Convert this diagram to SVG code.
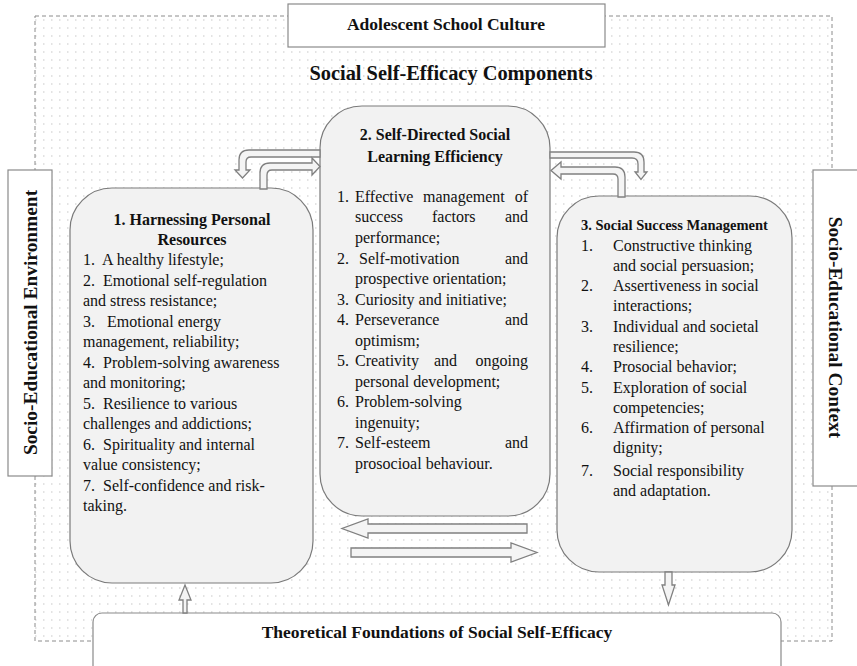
<svg xmlns="http://www.w3.org/2000/svg" width="857" height="666" viewBox="0 0 857 666">
<style>
text{font-family:"Liberation Serif","Times New Roman",serif;fill:#111}
.b{font-weight:bold}
.t16{font-size:16px}
.box{fill:#f2f2f2;stroke:#7a7a7a;stroke-width:1.2}
.wbox{fill:#fff;stroke:#8a8a8a;stroke-width:1.2}
.arr{fill:#f4f4f4;stroke:#808080;stroke-width:1.3;stroke-linejoin:miter}
</style>
<defs>
<pattern id="dots" x="0" y="0" width="8" height="8" patternUnits="userSpaceOnUse">
<rect x="3" y="3" width="1.5" height="2" fill="#e3e3e3"/>
</pattern>
</defs>
<rect width="857" height="666" fill="#fff"/>
<g id="frame">
<rect x="35" y="16" width="797" height="625" fill="url(#dots)" stroke="#8c8c8c" stroke-width="1" stroke-dasharray="4 3"/>
</g>
<g id="school-culture">
<rect class="wbox" x="288" y="4" width="317" height="43"/>
<text class="b" x="446" y="30" font-size="17.5" text-anchor="middle">Adolescent School Culture</text>
</g>
<g id="title">
<text class="b" x="451" y="80" font-size="20.4" text-anchor="middle">Social Self-Efficacy Components</text>
</g>
<g id="env">
<rect class="wbox" x="8" y="170" width="44" height="306"/>
<text class="b" font-size="19.4" text-anchor="middle" transform="translate(37,322.5) rotate(-90)">Socio-Educational Environment</text>
</g>
<g id="context">
<rect class="wbox" x="813" y="170" width="50" height="316"/>
<text class="b" font-size="19.4" text-anchor="middle" transform="translate(829,327.5) rotate(90)">Socio-Educational Context</text>
</g>
<g id="foundations">
<rect class="wbox" x="93" y="613" width="688" height="62" rx="9"/>
<text class="b" x="437" y="638" font-size="17.5" text-anchor="middle">Theoretical Foundations of Social Self-Efficacy</text>
</g>
<g id="box1">
<rect class="box" x="70" y="188" width="243" height="395" rx="42"/>
<text class="b t16" x="192" y="225" text-anchor="middle">1. Harnessing Personal</text>
<text class="b t16" x="192" y="245" text-anchor="middle">Resources</text>
<g class="t16">
<text x="83" y="265" xml:space="preserve">1.  A healthy lifestyle;</text>
<text x="83" y="286" xml:space="preserve">2.  Emotional self-regulation</text>
<text x="83" y="306">and stress resistance;</text>
<text x="83" y="327" xml:space="preserve">3.   Emotional energy</text>
<text x="83" y="347">management, reliability;</text>
<text x="83" y="368" xml:space="preserve">4.  Problem-solving awareness</text>
<text x="83" y="388">and monitoring;</text>
<text x="83" y="409" xml:space="preserve">5.  Resilience to various</text>
<text x="83" y="429">challenges and addictions;</text>
<text x="83" y="450" xml:space="preserve">6.  Spirituality and internal</text>
<text x="83" y="470">value consistency;</text>
<text x="83" y="491" xml:space="preserve">7.  Self-confidence and risk-</text>
<text x="83" y="511">taking.</text>
</g>
</g>
<g id="box2">
<rect class="box" x="320" y="106" width="230" height="410" rx="42"/>
<text class="b t16" x="435" y="140" text-anchor="middle">2. Self-Directed Social</text>
<text class="b t16" x="435" y="162" text-anchor="middle">Learning Efficiency</text>
<g class="t16">
<text x="337" y="202">1.</text><text x="355" y="202">Effective</text><text x="423" y="202">management</text><text x="528" y="202" text-anchor="end">of</text>
<text x="355" y="222">success</text><text x="432" y="222">factors</text><text x="528" y="222" text-anchor="end">and</text>
<text x="355" y="243">performance;</text>
<text x="337" y="264">2.</text><text x="359" y="264">Self-motivation</text><text x="528" y="264" text-anchor="end">and</text>
<text x="355" y="284">prospective orientation;</text>
<text x="337" y="305">3.</text><text x="355" y="305">Curiosity and initiative;</text>
<text x="337" y="325">4.</text><text x="355" y="325">Perseverance</text><text x="528" y="325" text-anchor="end">and</text>
<text x="355" y="346">optimism;</text>
<text x="337" y="366">5.</text><text x="355" y="366">Creativity</text><text x="434" y="366">and</text><text x="528" y="366" text-anchor="end">ongoing</text>
<text x="355" y="387">personal development;</text>
<text x="337" y="407">6.</text><text x="355" y="407">Problem-solving</text>
<text x="355" y="428">ingenuity;</text>
<text x="337" y="448">7.</text><text x="355" y="448">Self-esteem</text><text x="528" y="448" text-anchor="end">and</text>
<text x="355" y="469">prosocioal behaviour.</text>
</g>
</g>
<g id="box3">
<rect class="box" x="557" y="196" width="235" height="376" rx="42"/>
<text class="b" x="581" y="230" font-size="14.5">3. Social Success Management</text>
<g class="t16">
<text x="581" y="251">1.</text><text x="613" y="251">Constructive thinking</text>
<text x="613" y="271">and social persuasion;</text>
<text x="581" y="291">2.</text><text x="613" y="291">Assertiveness in social</text>
<text x="613" y="311">interactions;</text>
<text x="581" y="332">3.</text><text x="613" y="332">Individual and societal</text>
<text x="613" y="352">resilience;</text>
<text x="581" y="372">4.</text><text x="613" y="372">Prosocial behavior;</text>
<text x="581" y="393">5.</text><text x="613" y="393">Exploration of social</text>
<text x="613" y="413">competencies;</text>
<text x="581" y="433">6.</text><text x="613" y="433">Affirmation of personal</text>
<text x="613" y="453">dignity;</text>
<text x="581" y="476">7.</text><text x="613" y="476">Social responsibility</text>
<text x="613" y="496">and adaptation.</text>
</g>
</g>
<g id="connectors">
<path class="arr" d="M320,150 H249 Q239,150 239,160 V170 H235 L242.5,178 L250,170 H246 V162 Q246,157 251,157 H320 Z"/>
<path class="arr" d="M260,189 V173 Q260,163 270,163 H312 V158 L320,166.5 L312,175 V170 H272 Q267,170 267,175 V189 Z"/>
<path class="arr" d="M550,152 H634 Q644,152 644,162 V172 H647 L641,179.5 L635,172 H638 V164 Q638,158 632,158 H550 Z"/>
<path class="arr" d="M625,197 V177 Q625,167 615,167 H561 V162 L551,170.5 L561,179 V174 H613 Q618,174 618,179 V197 Z"/>
<path class="arr" d="M527,524 H368 V519 L342,528.5 L368,538 V533 H527 Z"/>
<path class="arr" d="M351,548 H511 V543 L537,552.5 L511,562 V557 H351 Z"/>
<path class="arr" d="M183,613 V600 H179 L185,585 L191,600 H187 V613 Z"/>
<path class="arr" d="M665,572 V585 H662 L668.5,605 L675,585 H672 V572 Z"/>
</g>
</svg>
